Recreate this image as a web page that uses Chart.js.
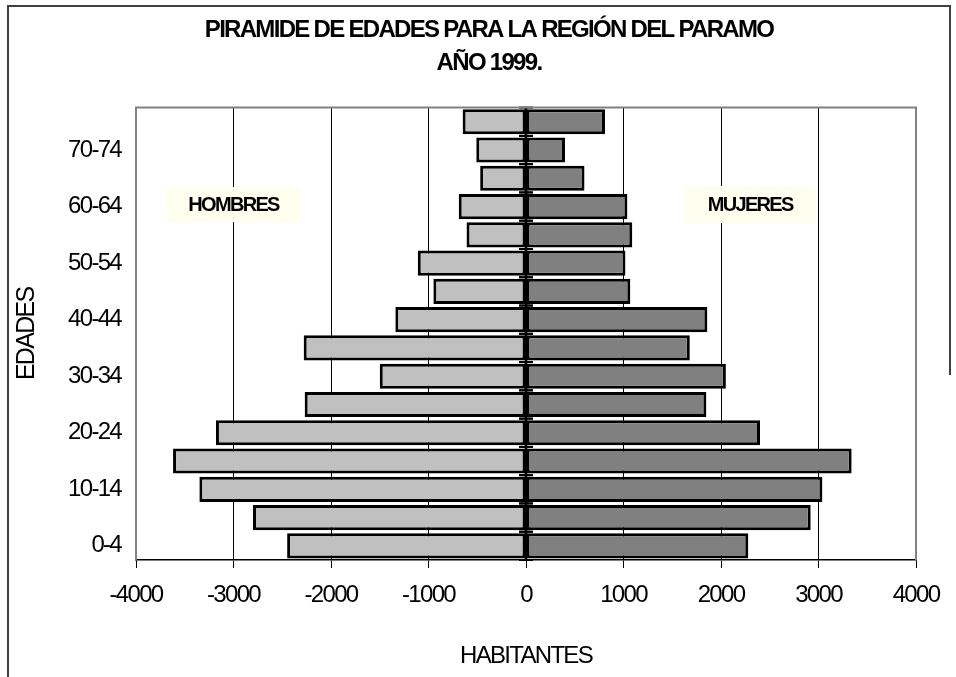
<!DOCTYPE html>
<html>
<head>
<meta charset="utf-8">
<script src="https://cdn.jsdelivr.net/npm/chart.js@4/dist/chart.umd.min.js"></script>
<style>
  html, body { margin: 0; padding: 0; background: #fff; }
  #wrap { width: 956px; height: 677px; }
</style>
</head>
<body>
<div id="wrap"><canvas id="c" width="956" height="677"></canvas></div>
<script>
// ---- data ----
const categories = ['0-4','5-9','10-14','15-19','20-24','25-29','30-34','35-39','40-44','45-49','50-54','55-59','60-64','65-69','70-74','75-79'];
const hombres = [-2450,-2800,-3350,-3620,-3180,-2270,-1500,-2280,-1340,-950,-1110,-610,-690,-470,-510,-650];
const mujeres = [2280,2920,3040,3340,2400,1850,2050,1680,1860,1070,1020,1090,1040,600,400,810];
const xTickValues = [-4000,-3000,-2000,-1000,0,1000,2000,3000,4000];
const seriesNames = ['HOMBRES','MUJERES'];
const titleLines = ['PIRAMIDE DE EDADES PARA LA REGIÓN DEL PARAMO', 'AÑO 1999.'];
const axisTitles = { x: 'HABITANTES', y: 'EDADES' };

const FONT = "'Liberation Sans', Arial, sans-serif";
const SPACING = '-1.7px';
Chart.defaults.font.family = FONT;
Chart.defaults.color = '#000';

const tightText = {
  id: 'tightText',
  beforeUpdate(chart) { chart.ctx.letterSpacing = SPACING; },
  beforeLayout(chart) { chart.ctx.letterSpacing = SPACING; },
  afterLayout(chart) {
    // centre the two title lines where the reference has them
    chart.boxes.forEach(b => {
      if (b.options && typeof b.options.text === 'string' && !b.axis) {
        b.left += 31;
        b.right += 31;
      }
    });
  },
  beforeDraw(chart) {
    const ctx = chart.ctx;
    ctx.letterSpacing = SPACING;
    ctx.save();
    ctx.fillStyle = '#fff';
    ctx.fillRect(0, 0, chart.width, chart.height);
    ctx.restore();
  }
};

const decor = {
  id: 'decor',
  afterDatasetsDraw(chart) {
    const ctx = chart.ctx, a = chart.chartArea;
    const xs = chart.scales.x, ys = chart.scales.y;
    const x0 = xs.getPixelForValue(0);
    const n = categories.length;
    const half = (a.bottom - a.top) / n / 2;
    ctx.save();
    ctx.strokeStyle = '#000';
    ctx.lineWidth = 2.5;
    ctx.beginPath();
    ctx.moveTo(x0, a.top);
    ctx.lineTo(x0, a.bottom);
    ctx.stroke();
    ctx.lineWidth = 2;
    for (let i = 0; i < n; i++) {
      const c = ys.getPixelForValue(i);
      [c - half, c + half].forEach(yy => {
        ctx.beginPath();
        ctx.moveTo(x0 - 7, yy);
        ctx.lineTo(x0 + 7, yy);
        ctx.stroke();
      });
    }
    ctx.strokeStyle = '#808080';
    ctx.lineWidth = 2;
    ctx.beginPath();
    ctx.moveTo(a.left, a.bottom);
    ctx.lineTo(a.left, a.top);
    ctx.lineTo(a.right, a.top);
    ctx.lineTo(a.right, a.bottom);
    ctx.stroke();
    const boxes = [
      { text: seriesNames[0], v: -3000, w: 135, h: 35 },
      { text: seriesNames[1], v: 2300, w: 131, h: 37 }
    ];
    ctx.font = 'bold 20px ' + FONT;
    ctx.textAlign = 'center';
    ctx.textBaseline = 'middle';
    boxes.forEach(b => {
      const cx = xs.getPixelForValue(b.v);
      const cy = ys.getPixelForValue(12) - 2;
      ctx.fillStyle = '#FFFFF0';
      ctx.fillRect(cx - b.w / 2, cy - b.h / 2, b.w, b.h);
      ctx.fillStyle = '#000';
      ctx.fillText(b.text, cx, cy + 1);
    });
    ctx.restore();
  },
  afterDraw(chart) {
    const ctx = chart.ctx;
    ctx.save();
    ctx.strokeStyle = '#404040';
    ctx.lineWidth = 2;
    ctx.beginPath();
    ctx.moveTo(8, chart.height);
    ctx.lineTo(8, 6);
    ctx.lineTo(950, 6);
    ctx.lineTo(950, 375);
    ctx.stroke();
    ctx.restore();
  }
};

new Chart(document.getElementById('c'), {
  type: 'bar',
  data: {
    labels: categories,
    datasets: [
      { label: seriesNames[0], data: hombres, backgroundColor: '#C0C0C0', borderColor: '#000', borderWidth: 3, borderSkipped: false },
      { label: seriesNames[1], data: mujeres, backgroundColor: '#808080', borderColor: '#000', borderWidth: 3, borderSkipped: false }
    ]
  },
  options: {
    indexAxis: 'y',
    responsive: false,
    animation: false,
    events: [],
    barPercentage: 0.89,
    categoryPercentage: 1.0,
    layout: { padding: { left: 0, right: 40, top: 0, bottom: 0 } },
    plugins: {
      legend: { display: false },
      tooltip: { enabled: false },
      title: {
        display: true,
        text: titleLines[0],
        color: '#000',
        font: { size: 24, weight: 'bold', family: FONT },
        padding: { top: 16, bottom: 4 }
      },
      subtitle: {
        display: true,
        text: titleLines[1],
        color: '#000',
        font: { size: 24, weight: 'bold', family: FONT },
        padding: { top: 0, bottom: 30 }
      }
    },
    scales: {
      x: {
        type: 'linear',
        stacked: true,
        min: xTickValues[0],
        max: xTickValues[xTickValues.length - 1],
        afterBuildTicks: s => { s.ticks = xTickValues.map(v => ({ value: v })); },
        afterFit: s => { s.height = 117; },
        ticks: {
          callback: v => String(v),
          font: { size: 24, family: FONT },
          color: '#000',
          padding: 13,
          maxRotation: 0,
          autoSkip: false
        },
        grid: {
          color: c => (c.tick && (c.tick.value === xTickValues[0] || c.tick.value === xTickValues[xTickValues.length - 1])) ? 'rgba(0,0,0,0)' : '#000',
          lineWidth: 1,
          drawTicks: true,
          tickLength: 8,
          tickColor: '#000',
          tickWidth: 1
        },
        border: { display: true, color: '#000', width: 1.5 },
        title: {
          display: true,
          text: axisTitles.x,
          font: { size: 24, family: FONT },
          color: '#000',
          padding: { top: 0, bottom: 6 }
        }
      },
      y: {
        type: 'category',
        stacked: true,
        reverse: true,
        afterFit: s => { s.width = 136; },
        ticks: {
          autoSkip: false,
          callback: function(v, i) { return i % 2 === 0 ? categories[i] : ''; },
          font: { size: 24, family: FONT },
          color: '#000',
          padding: 15
        },
        grid: { display: false, drawTicks: false },
        border: { display: false },
        title: {
          display: true,
          text: axisTitles.y,
          font: { size: 25, family: FONT },
          color: '#000',
          padding: { top: 12, bottom: 0 }
        }
      }
    }
  },
  plugins: [tightText, decor]
});
</script>
</body>
</html>
